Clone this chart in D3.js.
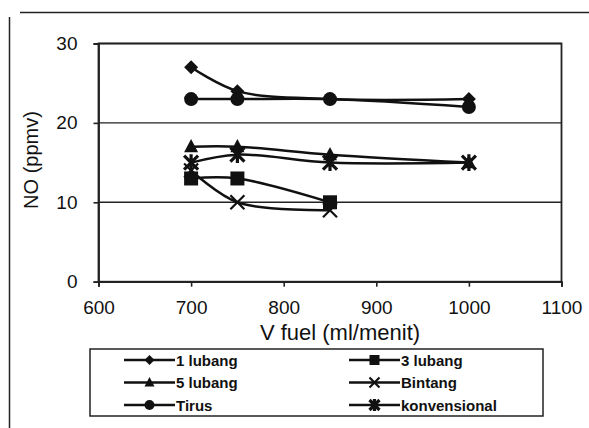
<!DOCTYPE html>
<html>
<head>
<meta charset="utf-8">
<script src="https://cdn.jsdelivr.net/npm/d3@7"></script>
<style>
  body { margin: 0; background: #fff; }
  text { font-family: "Liberation Sans", Arial, sans-serif; fill: #111; }
</style>
</head>
<body>
<div id="chart"></div>
<script>
  let xValues   = [700, 750, 850, 1000]
  let seriesNames = ['1 lubang', '3 lubang', '5 lubang', 'Bintang', 'Tirus', 'konvensional']
  let lubang1   = [27, 24, 23, 23]
  let lubang3   = [13, 13, 10]
  let lubang5   = [17, 17, 16, 15]
  let bintang   = [14, 10, 9]
  let tirus     = [23, 23, 23, 22]
  let konv      = [15, 16, 15, 15]
  let xTicks    = [600, 700, 800, 900, 1000, 1100]
  let yTicks    = [0, 10, 20, 30]

  let seriesValues = [lubang1, lubang3, lubang5, bintang, tirus, konv]
  let markers      = ['diamond', 'square', 'triangle', 'x', 'circle', 'star']

  let width = 589, height = 428
  let svg = d3.select('#chart').append('svg')
              .attr('width', width).attr('height', height)

  let x = d3.scaleLinear().domain([600, 1100]).range([98.5, 561.5])
  let y = d3.scaleLinear().domain([0, 30]).range([281.7, 43.5])

  // outer frame remnants
  svg.append('line').attr('x1', 9.5).attr('x2', 9.5).attr('y1', 17).attr('y2', 428)
     .attr('stroke', '#222').attr('stroke-width', 1.5)
  svg.append('line').attr('x1', 20).attr('x2', 589).attr('y1', 12.5).attr('y2', 12.5)
     .attr('stroke', '#222').attr('stroke-width', 1.5)

  // gridlines
  svg.append('g').selectAll('line').data(yTicks.filter(d => d > 0)).enter()
    .append('line')
      .attr('x1', x(600)).attr('x2', x(1100))
      .attr('y1', d => y(d)).attr('y2', d => y(d))
      .attr('stroke', '#222').attr('stroke-width', 1.4)

  // plot frame
  svg.append('rect')
     .attr('x', x(600)).attr('y', y(30))
     .attr('width', x(1100) - x(600)).attr('height', y(0) - y(30))
     .attr('fill', 'none').attr('stroke', '#222').attr('stroke-width', 1.8)

  let xAxis = svg.append('g').attr('transform', `translate(0,${y(0)})`)
                 .call(d3.axisBottom(x).tickValues(xTicks).tickFormat(d3.format('d')).tickSize(5).tickPadding(14))
  let yAxis = svg.append('g').attr('transform', `translate(${x(600)},0)`)
                 .call(d3.axisLeft(y).tickValues(yTicks).tickSize(5).tickPadding(16))
  ;[xAxis, yAxis].forEach(a => {
    a.select('.domain').attr('stroke', '#222').attr('stroke-width', 1.8)
    a.selectAll('.tick line').attr('stroke', '#222').attr('stroke-width', 1.6)
    a.selectAll('text').attr('font-size', 19).attr('fill', '#111')
      .style('font-family', '"Liberation Sans", Arial, sans-serif')
  })

  svg.append('text').attr('x', 340).attr('y', 340).attr('text-anchor', 'middle')
     .attr('font-size', 22).text('V fuel (ml/menit)')
  svg.append('text').attr('transform', 'translate(38,160) rotate(-90)')
     .attr('text-anchor', 'middle').attr('font-size', 20).text('NO (ppmv)')

  let line = d3.line()
               .x(d => x(d.x))
               .y(d => y(d.y))
               .curve(d3.curveCatmullRom.alpha(0.5))

  function drawMarker(g, type, cx, cy, s) {
    if (type === 'diamond')
      g.append('path').attr('d', `M${cx},${cy - s}L${cx + s},${cy}L${cx},${cy + s}L${cx - s},${cy}Z`).attr('fill', '#111')
    else if (type === 'square')
      g.append('rect').attr('x', cx - s).attr('y', cy - s).attr('width', 2 * s).attr('height', 2 * s).attr('fill', '#111')
    else if (type === 'triangle')
      g.append('path').attr('d', `M${cx},${cy - s * 1.1}L${cx + s},${cy + s * 0.8}L${cx - s},${cy + s * 0.8}Z`).attr('fill', '#111')
    else if (type === 'circle')
      g.append('circle').attr('cx', cx).attr('cy', cy).attr('r', s).attr('fill', '#111')
    else if (type === 'x')
      g.append('path').attr('d', `M${cx - s},${cy - s}L${cx + s},${cy + s}M${cx - s},${cy + s}L${cx + s},${cy - s}`)
       .attr('stroke', '#111').attr('stroke-width', 2.2).attr('fill', 'none')
    else if (type === 'star')
      g.append('path').attr('d', `M${cx - s},${cy - s}L${cx + s},${cy + s}M${cx - s},${cy + s}L${cx + s},${cy - s}M${cx},${cy - s * 1.2}L${cx},${cy + s * 1.2}`)
       .attr('stroke', '#111').attr('stroke-width', 3.2).attr('fill', 'none')
  }

  let plot = svg.append('g')
  seriesValues.forEach((vals, i) => {
    let pts = vals.map((v, j) => ({ x: xValues[j], y: v }))
    plot.append('path').datum(pts).attr('d', line)
        .attr('fill', 'none').attr('stroke', '#111').attr('stroke-width', 2.5)
    let mg = plot.append('g')
    pts.forEach(p => drawMarker(mg, markers[i], x(p.x), y(p.y), 7))
  })

  // legend
  let lg = svg.append('g')
  lg.append('rect').attr('x', 90).attr('y', 349).attr('width', 453).attr('height', 67)
    .attr('fill', '#fff').attr('stroke', '#222').attr('stroke-width', 1.5)
  seriesNames.forEach((name, k) => {
    let col = k % 2, row = Math.floor(k / 2)
    let lx = col === 0 ? 124 : 349, ly = 360 + row * 22.5
    lg.append('line').attr('x1', lx).attr('x2', lx + 51).attr('y1', ly).attr('y2', ly)
      .attr('stroke', '#111').attr('stroke-width', 2.4)
    drawMarker(lg, markers[k], lx + 25.5, ly, 5)
    lg.append('text').attr('x', lx + 52).attr('y', ly + 5.5).attr('font-size', 15)
      .attr('font-weight', 'bold').text(name)
  })
</script>
</body>
</html>
